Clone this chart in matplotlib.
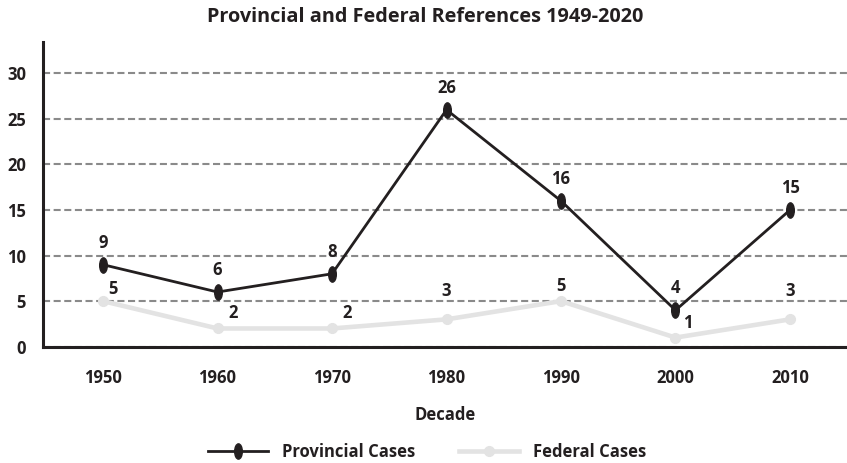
import matplotlib
matplotlib.use("Agg")
import matplotlib.pyplot as plt
from matplotlib.path import Path
from matplotlib.transforms import Affine2D

plt.rcParams["font.family"] = ["Open Sans", "DejaVu Sans"]
plt.rcParams["font.weight"] = "bold"

decades = [1950, 1960, 1970, 1980, 1990, 2000, 2010]
provincial = [9, 6, 8, 26, 16, 4, 15]
federal = [5, 2, 2, 3, 5, 1, 3]
yticks = [0, 5, 10, 15, 20, 25, 30]

# label offsets in pixels (dx, dy) for the federal values
fed_offsets = [(10, 12), (16, 15), (15, 15), (0, 28), (0, 15), (12, 15), (0, 28)]

dark = "#231f20"
light = "#e3e3e3"
px = 0.72  # points per pixel at 100 dpi

# tall ellipse marker for the provincial series
ellipse = Path.unit_circle().transformed(Affine2D().scale(0.5, 1.0))

fig = plt.figure(figsize=(8.47, 4.63), dpi=100)
ax = fig.add_axes([42.7 / 847, 116.3 / 463, 1 - 42.7 / 847, 305 / 463])

ax.plot(decades, federal, color=light, lw=3.3, marker="o", ms=7,
        label="Federal Cases", zorder=3)
ax.plot(decades, provincial, color=dark, lw=2, marker=ellipse, ms=11,
        label="Provincial Cases", zorder=4)

for x, y in zip(decades, provincial):
    ax.annotate(str(y), (x, y), xytext=(0, 22 * px), textcoords="offset points",
                ha="center", va="center", fontsize=12, color=dark)
for x, y, (dx, dy) in zip(decades, federal, fed_offsets):
    ax.annotate(str(y), (x, y), xytext=(dx * px, dy * px), textcoords="offset points",
                ha="center", va="center", fontsize=12, color=dark)

ax.set_xlim(1944.73, 2014.98)
ax.set_ylim(0, 33.47)
ax.set_xticks(decades)
ax.set_yticks(yticks)
ax.tick_params(length=0, labelsize=12, colors=dark)
ax.tick_params(axis="x", pad=16)
ax.tick_params(axis="y", pad=12)

ax.grid(axis="y", color="#8a8a8a", lw=1.5, linestyle=(0, (3.4, 1.7)))
ax.set_axisbelow(True)
for s in ["top", "right"]:
    ax.spines[s].set_visible(False)
for s in ["left", "bottom"]:
    ax.spines[s].set_color(dark)
    ax.spines[s].set_linewidth(2.2)

ax.set_xlabel("Decade", fontsize=12, fontweight="bold", color=dark, labelpad=14)
fig.text(425 / 847, 1 - 17 / 463, "Provincial and Federal References 1949-2020",
         ha="center", va="center", fontsize=14.3, fontweight="bold", color=dark)

handles, labels = ax.get_legend_handles_labels()
fig.legend(handles[::-1], labels[::-1], loc="center", bbox_to_anchor=(427 / 847, 1 - 452 / 463),
           ncol=2, frameon=False, fontsize=12, handlelength=3.6, handletextpad=0.85,
           columnspacing=2.6, labelcolor=dark)

fig.savefig("out.png", dpi=100)
